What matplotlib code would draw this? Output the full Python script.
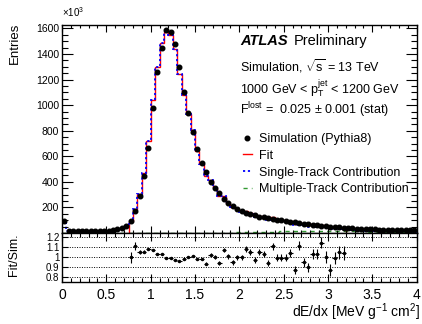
import numpy as np
import matplotlib
matplotlib.use('Agg')
import matplotlib.pyplot as plt
from matplotlib.lines import Line2D
from matplotlib.ticker import MultipleLocator

plt.rcParams['font.family'] = ['Liberation Sans', 'DejaVu Sans']
plt.rcParams['mathtext.fontset'] = 'custom'
plt.rcParams['mathtext.rm'] = 'Liberation Sans'
plt.rcParams['mathtext.it'] = 'Liberation Sans:italic'
plt.rcParams['mathtext.bf'] = 'Liberation Sans:bold'

# dE/dx binning: 80 bins of 0.05 from 0 to 4
edges = np.linspace(0, 4, 81)
centers = 0.5 * (edges[1:] + edges[:-1])

# simulation (Pythia8), entries x10^3
sim = np.array([92, 12, 13, 13, 14, 14, 15, 15, 16, 17,
                19, 22, 28, 38, 56, 96, 169, 292, 445, 664,
                974, 1256, 1446, 1590, 1571, 1480, 1295, 1102, 935, 792,
                656, 550, 475, 402, 349, 310, 268, 231, 213, 190,
                172, 158, 148, 138, 128, 122, 116, 110, 105, 100,
                95, 89, 83, 78, 74, 69, 65, 61, 57, 53,
                50, 47, 44, 41, 38, 36, 34, 32, 30, 29,
                28, 27, 26, 25, 24, 23, 23, 22, 22, 21], dtype=float)

# fit range: bins 15..63 (0.75 - 3.2)
fit_lo, fit_hi = 15, 64
ratio = np.array([0.997, 1.107, 1.05, 1.05, 1.08, 1.067, 1.033, 1.03, 0.987, 0.987,
                  0.973, 0.96, 0.98, 0.997, 1.013, 0.98, 0.98, 0.933, 1.023, 1.0,
                  0.94, 1.067, 1.007, 0.947, 0.997, 0.997, 1.08, 1.05, 0.967, 1.047,
                  1.027, 0.94, 1.107, 0.993, 0.993, 0.993, 1.04, 0.873, 1.113, 0.947,
                  0.9, 1.027, 1.027, 1.14, 1.0, 0.873, 0.99, 1.047, 1.04])
ratio_err = np.array([0.055, 0.04, 0.02, 0.015, 0.012, 0.01, 0.008, 0.008, 0.007, 0.007,
                      0.007, 0.008, 0.009, 0.01, 0.011, 0.012, 0.013, 0.015, 0.016, 0.017,
                      0.018, 0.02, 0.022, 0.023, 0.025, 0.026, 0.027, 0.028, 0.03, 0.03,
                      0.031, 0.032, 0.034, 0.035, 0.036, 0.037, 0.038, 0.04, 0.042, 0.043,
                      0.045, 0.047, 0.05, 0.052, 0.055, 0.057, 0.06, 0.063, 0.065])

# multiple-track contribution
multi = np.array([0] * 38 +
                 [2, 4, 5, 6, 7, 8, 9, 10, 10, 11,
                  11, 12, 12, 12, 13, 13, 13, 13, 13, 13,
                  13, 13, 13, 13, 12, 12, 12, 12, 12, 12,
                  12, 11, 11, 11, 11, 11, 11, 11, 10, 10,
                  10, 10], dtype=float)

fit = sim[fit_lo:fit_hi] * ratio
single = sim - multi
single[fit_lo:fit_hi] = fit - multi[fit_lo:fit_hi]

W, H = 422, 324
fig = plt.figure(figsize=(W / 100, H / 100), dpi=100)
ax = fig.add_axes([62 / W, 1 - 233 / H, 354.7 / W, 208 / H])
rax = fig.add_axes([62 / W, 1 - 282 / H, 354.7 / W, 49 / H], sharex=ax)

ax.stairs(multi, edges, color='#339933', ls=(0, (3, 3)), lw=1.0, baseline=None)
ax.stairs(fit, edges[fit_lo:fit_hi + 1], color='red', lw=1.0)
ax.stairs(single, edges, color='blue', ls=(0, (1.2, 1.5)), lw=1.3, baseline=None)
ax.plot(centers, sim, 'o', color='black', ms=3.3, zorder=5)

ax.set_xlim(0, 4)
ax.set_ylim(0, 1627)
ax.yaxis.set_minor_locator(MultipleLocator(50))
ax.xaxis.set_major_locator(MultipleLocator(0.5))
ax.xaxis.set_minor_locator(MultipleLocator(0.1))
ax.set_yticks([200, 400, 600, 800, 1000, 1200, 1400, 1600])
ax.tick_params(which='both', direction='in', top=True, right=True, labelbottom=False,
               labelsize=7.5, pad=2, width=0.8)
ax.tick_params(axis='y', which='major', length=8)
ax.tick_params(axis='y', which='minor', length=4)
ax.tick_params(axis='x', which='major', length=5)
ax.tick_params(axis='x', which='minor', length=2.5)
for s in ax.spines.values():
    s.set_linewidth(1.0)

rax.errorbar(centers[fit_lo:fit_hi], ratio, yerr=ratio_err, xerr=0.025, fmt='o',
             ms=1.5, color='black', lw=0.8, capsize=0)
rax.set_ylim(0.754, 1.236)
rax.set_yticks([0.8, 0.9, 1.0, 1.1, 1.2])
rax.set_yticklabels(['0.8', '0.9', '1', '1.1', '1.2'])
for yv in [0.8, 0.9, 1.0, 1.1, 1.2]:
    rax.axhline(yv, color='black', ls=(0, (1, 1.5)), lw=0.7)
rax.tick_params(which='both', direction='in', top=True, right=True, width=0.8)
rax.tick_params(axis='y', labelsize=7, pad=2, length=4)
rax.tick_params(axis='x', labelsize=10, pad=4)
rax.tick_params(axis='x', which='major', length=6)
rax.tick_params(axis='x', which='minor', length=3)
rax.set_xticks([0, 0.5, 1, 1.5, 2, 2.5, 3, 3.5, 4])
rax.set_xticklabels(['0', '0.5', '1', '1.5', '2', '2.5', '3', '3.5', '4'])
for s in rax.spines.values():
    s.set_linewidth(1.0)

fig.text(420 / W, 1 - 312 / H, r'dE/dx [MeV g$^{-1}$ cm$^{2}$]', ha='right', va='center', fontsize=10)
fig.text(14.5 / W, 1 - 23 / H, 'Entries', rotation=90, ha='center', va='top', fontsize=9.5)
fig.text(14.5 / W, 1 - 233 / H, 'Fit/Sim.', rotation=90, ha='center', va='top', fontsize=9)
fig.text(62 / W, 1 - 12 / H, r'$\times$10$^{3}$', ha='left', va='center', fontsize=7)

tx = 240 / W
fig.text(tx, 1 - 45 / H, 'ATLAS', fontsize=10.5, fontweight='bold', style='italic', va='baseline')
fig.text(294 / W, 1 - 45 / H, 'Preliminary', fontsize=10.5, va='baseline')
fig.text(tx, 1 - 71.7 / H, r'Simulation, $\sqrt{\mathrm{s}}$ = 13 TeV', fontsize=9, va='baseline')
fig.text(tx, 1 - 93.3 / H, r'1000 GeV < $\mathrm{p}_{\mathrm{T}}^{\mathrm{jet}}$ < 1200 GeV', fontsize=9, va='baseline')
fig.text(tx, 1 - 114 / H, r'F$^{\mathrm{lost}}$ =  0.025 $\pm$ 0.001 (stat)', fontsize=9, va='baseline')

handles = [Line2D([], [], ls='none', marker='o', color='black', ms=3.3),
           Line2D([], [], color='red', lw=1.0),
           Line2D([], [], color='blue', ls=(0, (1.2, 1.5)), lw=1.3),
           Line2D([], [], color='#339933', ls=(0, (3, 3)), lw=1.0)]
labels = ['Simulation (Pythia8)', 'Fit', 'Single-Track Contribution', 'Multiple-Track Contribution']
fig.legend(handles, labels, loc='upper left', bbox_to_anchor=(243 / W, 1 - 133 / H),
           frameon=False, fontsize=9, handlelength=0.7, handletextpad=0.6,
           labelspacing=0.38, borderpad=0, borderaxespad=0)

fig.savefig('out.png', dpi=100)
